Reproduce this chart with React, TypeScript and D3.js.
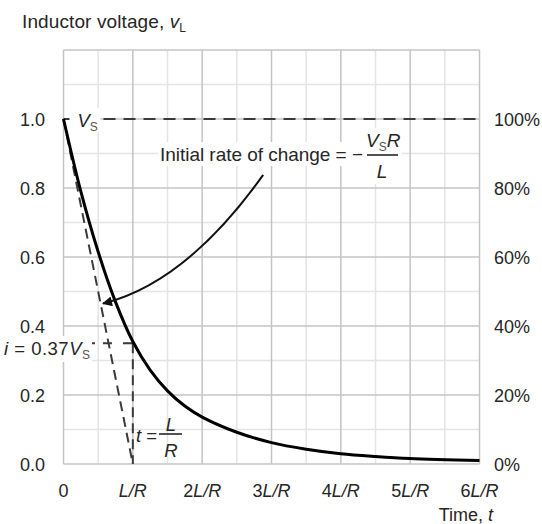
import React from "react";
import * as d3 from "d3";

const W = 542;
const H = 524;

// Decay curve (t in multiples of L/R, v relative to Vs)
const timeValues = [0, 0.25, 0.5, 0.75, 1, 1.25, 1.5, 1.75, 2, 2.5, 3, 3.5, 4, 4.5, 5, 6];
const voltageValues = [1.0, 0.79, 0.615, 0.47, 0.355, 0.272, 0.212, 0.168, 0.136, 0.092, 0.062, 0.043, 0.03, 0.022, 0.016, 0.01];

const xTicks = [0, 1, 2, 3, 4, 5, 6];
const xTickPrefix = ["0", "", "2", "3", "4", "5", "6"];
const yTicks = [0, 0.2, 0.4, 0.6, 0.8, 1.0];
const yTickLabels = ["0.0", "0.2", "0.4", "0.6", "0.8", "1.0"];
const yRightLabels = ["0%", "20%", "40%", "60%", "80%", "100%"];
const xMinor = [0.5, 1.5, 2.5, 3.5, 4.5, 5.5];
const yMinor = [0.1, 0.3, 0.5, 0.7, 0.9, 1.1];

const sourceLevel = 1.0;
const markerLevel = 0.35; // where the dashed 0.37 marker sits in the picture
const markerStart = 0.41;
const tauTime = 1;

// arrow annotation (data coords): start, control, end
const arrowStart = [2.88, 0.838];
const arrowCtrl = [1.77, 0.525];
const arrowEnd = [0.57, 0.465];

const FONT = "'Liberation Sans', Arial, sans-serif";
const TXT = "#262626";

export default function App() {
  const x = d3.scaleLinear().domain([0, 6]).range([63.5, 479.5]);
  const y = d3.scaleLinear().domain([0, 1.2]).range([464, 50]);

  const pts = timeValues.map((t, i) => [t, voltageValues[i]] as [number, number]);
  const line = d3
    .line<[number, number]>()
    .x((d) => x(d[0]))
    .y((d) => y(d[1]))
    .curve(d3.curveCatmullRom.alpha(0.5));

  const arrowPath = d3.path();
  arrowPath.moveTo(x(arrowStart[0]), y(arrowStart[1]));
  arrowPath.quadraticCurveTo(x(arrowCtrl[0]), y(arrowCtrl[1]), x(arrowEnd[0]), y(arrowEnd[1]));

  const dashColor = "#3a3a3a";

  return (
    <svg
      width={W}
      height={H}
      style={{ position: "absolute", left: 0, top: 0, background: "#fff" }}
      fontFamily={FONT}
    >
      <defs>
        <marker id="ah" viewBox="0 0 10 10" refX="9" refY="5" markerWidth="6.5" markerHeight="5" orient="auto" markerUnits="strokeWidth">
          <path d="M0,0 L10,5 L0,10 z" fill="#111" />
        </marker>
      </defs>
      <rect width={W} height={H} fill="#fff" />
      {/* minor grid */}
      {xMinor.map((t) => (
        <line key={"xm" + t} x1={x(t)} x2={x(t)} y1={y(0)} y2={y(1.2)} stroke="#e4e4e4" strokeWidth={1.5} />
      ))}
      {yMinor.map((v) => (
        <line key={"ym" + v} x1={x(0)} x2={x(6)} y1={y(v)} y2={y(v)} stroke="#e4e4e4" strokeWidth={1.5} />
      ))}
      {/* major grid */}
      {xTicks.map((t) => (
        <line key={"xM" + t} x1={x(t)} x2={x(t)} y1={y(0)} y2={y(1.2)} stroke="#c4c4c4" strokeWidth={1.5} />
      ))}
      {[...yTicks, 1.2].map((v) => (
        <line key={"yM" + v} x1={x(0)} x2={x(6)} y1={y(v)} y2={y(v)} stroke="#c4c4c4" strokeWidth={1.5} />
      ))}

      {/* Vs dashed line */}
      <line x1={x(0)} x2={x(6)} y1={y(sourceLevel)} y2={y(sourceLevel)} stroke={dashColor} strokeWidth={2.2} strokeDasharray="12 8" />
      {/* tangent */}
      <line x1={x(0)} y1={y(sourceLevel)} x2={x(tauTime)} y2={y(0)} stroke={dashColor} strokeWidth={2} strokeDasharray="10 6" />
      {/* vertical at tau */}
      <line x1={x(tauTime)} y1={y(markerLevel)} x2={x(tauTime)} y2={y(0)} stroke={dashColor} strokeWidth={2} strokeDasharray="10 6" />
      {/* horizontal at 0.37 */}
      <line x1={x(markerStart)} y1={y(markerLevel)} x2={x(tauTime)} y2={y(markerLevel)} stroke={dashColor} strokeWidth={2} strokeDasharray="3 8 9 11 10 10" />

      {/* curve */}
      <path d={line(pts) || ""} fill="none" stroke="#000" strokeWidth={3} />

      {/* arrow */}
      <path d={arrowPath.toString()} fill="none" stroke="#111" strokeWidth={2} markerEnd="url(#ah)" />

      {/* Vs label */}
      <rect x={x(0) + 6} y={y(sourceLevel) - 11} width={31} height={24} fill="#fff" />
      <text x={x(0) + 14} y={y(sourceLevel) + 8} fontSize={18.5} fill={TXT}>
        <tspan fontStyle="italic">V</tspan>
        <tspan fontSize={12} dy={4} fill="#555">S</tspan>
      </text>

      {/* Initial rate label */}
      <rect x={158} y={142} width={200} height={24} fill="#fff" />
      <rect x={362} y={128} width={40} height={56} fill="#fff" />
      <text x={160} y={161} fontSize={19} fill={TXT} textLength={203} lengthAdjust="spacing">Initial rate of change = −</text>
      <text x={366} y={147} fontSize={19} fill={TXT}>
        <tspan fontStyle="italic">V</tspan>
        <tspan fontSize={12} dy={4} fill="#555">S</tspan>
        <tspan fontStyle="italic" dy={-4}>R</tspan>
      </text>
      <line x1={367} x2={398} y1={155} y2={155} stroke={TXT} strokeWidth={1.6} />
      <text x={382} y={178} fontSize={19} fill={TXT} textAnchor="middle" fontStyle="italic">L</text>

      {/* i = 0.37 Vs label */}
      <rect x={0} y={336} width={92} height={26} fill="#fff" />
      <text x={4} y={355} fontSize={18.5} fill={TXT} textLength={86} lengthAdjust="spacing">
        <tspan fontStyle="italic">i</tspan>
        <tspan> = 0.37</tspan>
        <tspan fontStyle="italic">V</tspan>
        <tspan fontSize={12} dy={4} fill="#555">S</tspan>
      </text>

      {/* t = L/R label */}
      <text x={136} y={442} fontSize={18.5} fill={TXT}>
        <tspan fontStyle="italic">t</tspan>
        <tspan> =</tspan>
      </text>
      <line x1={159} x2={182} y1={434} y2={434} stroke={TXT} strokeWidth={1.6} />
      <text x={171} y={431} fontSize={18.5} fill={TXT} textAnchor="middle" fontStyle="italic">L</text>
      <text x={171} y={457} fontSize={18.5} fill={TXT} textAnchor="middle" fontStyle="italic">R</text>

      {/* left ticks */}
      {yTicks.map((v, i) => (
        <text key={"yl" + v} x={45} y={y(v) + 6.5} fontSize={18} fill={TXT} textAnchor="end">
          {yTickLabels[i]}
        </text>
      ))}
      {/* right ticks */}
      {yTicks.map((v, i) => (
        <text key={"yr" + v} x={494} y={y(v) + 6.5} fontSize={18} fill={TXT}>
          {yRightLabels[i]}
        </text>
      ))}
      {/* x ticks */}
      {xTicks.map((t, i) => (
        <text key={"xl" + t} x={x(t)} y={497} fontSize={18} fill={TXT} textAnchor="middle">
          {t === 0 ? (
            "0"
          ) : (
            <>
              {xTickPrefix[i] && <tspan>{xTickPrefix[i]}</tspan>}
              <tspan fontStyle="italic">L/R</tspan>
            </>
          )}
        </text>
      ))}

      {/* axis titles */}
      <text x={22} y={28} fontSize={19} fill={TXT} textLength={164} lengthAdjust="spacing">
        Inductor voltage, <tspan fontStyle="italic">v</tspan>
        <tspan fontSize={12} dy={4}>L</tspan>
      </text>
      <text x={493} y={521} fontSize={18} fill={TXT} textAnchor="end">
        Time, <tspan fontStyle="italic">t</tspan>
      </text>
    </svg>
  );
}
